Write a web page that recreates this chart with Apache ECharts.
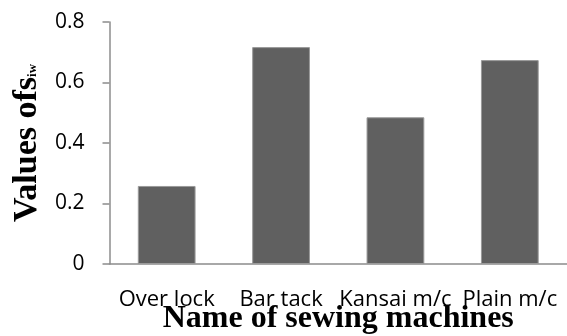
<!DOCTYPE html>
<html><head><meta charset="utf-8">
<script src="https://cdn.jsdelivr.net/npm/echarts@6/dist/echarts.min.js"></script>
<style>html,body{margin:0;padding:0;background:#fff}#c{width:567px;height:336px}</style>
</head><body><div id="c"></div>
<script>
const categories = ['Over lock', 'Bar tack', 'Kansai m/c', 'Plain m/c'];
const values = [0.258, 0.717, 0.485, 0.674];
const yTicks = [0, 0.2, 0.4, 0.6, 0.8];

const chart = echarts.init(document.getElementById('c'));
chart.setOption({
  animation: false,
  grid: { left: 109.5, right: 0, top: 22, bottom: 72, containLabel: false, outerBoundsMode: 'none' },
  xAxis: {
    type: 'category', data: categories,
    axisLine: { lineStyle: { color: '#8c8c8c', width: 1.5 } },
    axisTick: { show: false },
    axisLabel: { color: '#000', fontFamily: 'Open Sans', fontSize: 22, margin: 25, interval: 0 },
    name: 'Name of sewing machines', nameLocation: 'middle', nameGap: 39, nameMoveOverlap: false,
    nameTextStyle: { fontFamily: 'Liberation Serif', fontWeight: 'bold', fontSize: 32, color: '#000' }
  },
  yAxis: {
    type: 'value', min: 0, max: 0.8, interval: 0.2,
    splitLine: { show: false },
    axisLine: { show: true, lineStyle: { color: '#8c8c8c', width: 1.5 } },
    axisTick: { show: true, length: 7, lineStyle: { color: '#8c8c8c', width: 1.5 } },
    axisLabel: { color: '#000', fontFamily: 'Open Sans', fontSize: 21, margin: 25,
      formatter: v => yTicks.includes(Math.round(v*10)/10) ? String(Math.round(v*10)/10) : '' },
    name: '{b|Values of}{b|s}{sub|iw}', nameLocation: 'middle', nameGap: 64, nameRotate: 90,
    nameTextStyle: {
      rich: {
        b: { fontFamily: 'Liberation Serif', fontWeight: 'bold', fontSize: 34, color: '#000' },
        sub: { fontFamily: 'Liberation Serif', fontWeight: 'bold', fontSize: 13, color: '#000', padding: [12, 0, 0, 0] }
      }
    }
  },
  series: [{
    type: 'bar', data: values, barWidth: '50.5%',
    itemStyle: { color: '#606060', borderColor: '#9a9a9a', borderWidth: 1 }
  }]
});
</script></body></html>
